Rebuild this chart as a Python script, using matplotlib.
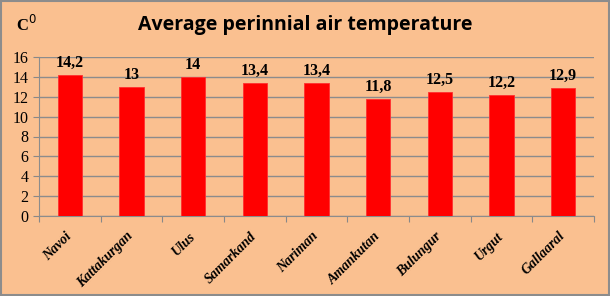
import numpy as np
import matplotlib.pyplot as plt
from matplotlib.patches import Rectangle

stations = ["Navoi", "Kattakurgan", "Ulus", "Samarkand", "Nariman",
            "Amankutan", "Bulungur", "Urgut", "Gallaaral"]
temps = [14.2, 13.0, 14.0, 13.4, 13.4, 11.8, 12.5, 12.2, 12.9]
labels = ["14,2", "13", "14", "13,4", "13,4", "11,8", "12,5", "12,2", "12,9"]

bg = "#fac090"
fig = plt.figure(figsize=(6.1, 2.96), dpi=100, facecolor=bg)
fig.patches.append(Rectangle((0.002, 0.003), 0.996, 0.994, transform=fig.transFigure,
                             fill=False, edgecolor="#8c8c8c", linewidth=1.5))
ax = fig.add_axes([39 / 610, 1 - 216 / 296, (594 - 39) / 610, (216 - 57) / 296])
ax.set_facecolor(bg)

x = np.arange(len(stations))
ax.bar(x, temps, width=0.39, color="#ff0000", edgecolor="#ff3030", linewidth=0.6, zorder=3)
for xi, v, s in zip(x, temps, labels):
    ax.text(xi, v + 0.4, s, ha="center", va="bottom", fontsize=11.5,
            fontweight="bold", family="Liberation Serif")

ax.set_xlim(-0.5, len(stations) - 0.5)
ax.set_ylim(0, 16)
ax.set_yticks(range(0, 17, 2))
ax.set_xticks(np.arange(len(stations) + 1) - 0.5, minor=False)
ax.set_xticklabels([])
ax.set_xticks(x, minor=True)
ax.set_xticklabels(stations, minor=True, rotation=45, ha="right", va="center",
                   rotation_mode="anchor", fontsize=10, fontweight="bold",
                   fontstyle="italic", family="Liberation Serif")
ax.tick_params(axis="x", which="minor", length=0, pad=13)
ax.tick_params(axis="x", which="major", length=4, color="#888888")
ax.tick_params(axis="y", length=4, color="#888888", labelsize=11.5)
for t in ax.get_yticklabels():
    t.set_family("Liberation Serif")
ax.grid(axis="y", color="#8c8c8c", linewidth=1.0, zorder=0)
for side in ["top", "right"]:
    ax.spines[side].set_visible(False)
for side in ["left", "bottom"]:
    ax.spines[side].set_color("#8c8c8c")

fig.text(0.5, 0.915, "Average perinnial air temperature", ha="center", va="center",
         fontsize=14, fontweight="bold", family="Open Sans")
fig.text(0.026, 0.915, "C$^{0}$", ha="left", va="center",
         fontsize=12, fontweight="bold", family="Liberation Serif")

fig.savefig("out.png", dpi=100, facecolor=bg)
